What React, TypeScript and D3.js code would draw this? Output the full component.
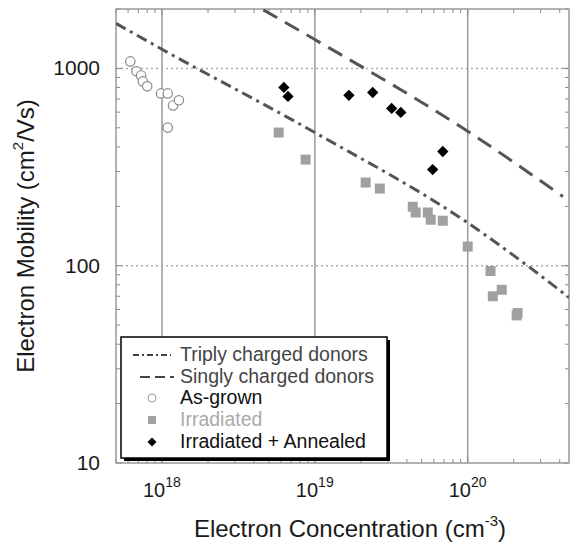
import React, { useEffect, useRef } from 'react';
import * as d3 from 'd3';

// electron concentration (cm^-3), mobility (cm^2/Vs)
const asGrownConc = [6.2e17, 6.8e17, 7.3e17, 7.5e17, 8.0e17, 9.85e17, 1.09e18, 1.18e18, 1.29e18, 1.09e18];
const asGrownMob = [1085, 966, 921, 859, 811, 747, 747, 649, 689, 501];

const irradConc = [5.8e18, 8.7e18, 2.15e19, 2.66e19, 4.37e19, 4.57e19, 5.48e19, 5.73e19, 6.87e19, 1.0e20, 1.41e20, 1.46e20, 1.67e20, 2.09e20, 2.12e20];
const irradMob = [473, 345, 264, 246, 199, 186, 186, 171, 169, 125, 94, 70, 75.5, 56, 57.5];

const annealConc = [6.27e18, 6.67e18, 1.67e19, 2.39e19, 3.18e19, 3.65e19, 5.9e19, 6.87e19];
const annealMob = [801, 721, 730, 755, 627, 598, 307, 379];

const triplyConc = [5e17, 1e18, 1e19, 1e20, 2.46e20, 4.6e20];
const triplyMob = [1690, 1250, 473, 165, 100, 69];

const singlyConc = [4.6e18, 1e19, 1e20, 4.2e20];
const singlyMob = [1980, 1400, 480, 224];

const xMajor = [1e18, 1e19, 1e20];
const yMajor = [10, 100, 1000];
const yLabels = ['10', '100', '1000'];
const xExp = ['18', '19', '20'];

const legendItems = ['Triply charged donors', 'Singly charged donors', 'As-grown', 'Irradiated', 'Irradiated + Annealed'];

const FONT = '"Liberation Sans", Arial, sans-serif';

const App: React.FC = () => {
  const svgRef = useRef<SVGSVGElement>(null);

  useEffect(() => {
    if (!svgRef.current) return;
    const svg = d3.select(svgRef.current);
    svg.selectAll('*').remove();

    const x = d3.scaleLog().domain([5e17, 4.6e20]).range([116, 569]);
    const y = d3.scaleLog().domain([10, 2000]).range([463, 9]);
    const [x0, x1] = x.range();
    const [y0, y1] = y.range();

    const g = svg.append('g');

    // grid
    g.selectAll('line.vgrid').data(xMajor).join('line')
      .attr('x1', d => x(d)).attr('x2', d => x(d)).attr('y1', y1).attr('y2', y0)
      .attr('stroke', '#9a9a9a').attr('stroke-width', 1.5);
    g.selectAll('line.hgrid').data([100, 1000]).join('line')
      .attr('x1', x0).attr('x2', x1).attr('y1', d => y(d)).attr('y2', d => y(d))
      .attr('stroke', '#aaa').attr('stroke-width', 1.5).attr('stroke-dasharray', '2,3');

    // minor/major ticks
    const xTicks = x.ticks().filter(d => d >= 5e17 && d <= 4.6e20);
    const yTicks = y.ticks().filter(d => d >= 10 && d <= 2000);
    const isMajor = (v: number) => Math.abs(Math.log10(v) - Math.round(Math.log10(v))) < 1e-6;
    xTicks.forEach(t => {
      const len = isMajor(t) ? 6 : 4;
      g.append('line').attr('x1', x(t)).attr('x2', x(t)).attr('y1', y0).attr('y2', y0 - len).attr('stroke', '#888');
      g.append('line').attr('x1', x(t)).attr('x2', x(t)).attr('y1', y1).attr('y2', y1 + len).attr('stroke', '#888');
    });
    yTicks.forEach(t => {
      const len = isMajor(t) ? 6 : 4;
      g.append('line').attr('x1', x0).attr('x2', x0 + len).attr('y1', y(t)).attr('y2', y(t)).attr('stroke', '#888');
      g.append('line').attr('x1', x1).attr('x2', x1 - len).attr('y1', y(t)).attr('y2', y(t)).attr('stroke', '#888');
    });

    // frame
    g.append('rect').attr('x', x0).attr('y', y1).attr('width', x1 - x0).attr('height', y0 - y1)
      .attr('fill', 'none').attr('stroke', '#999').attr('stroke-width', 1.5);

    const clip = svg.append('clipPath').attr('id', 'plotclip');
    clip.append('rect').attr('x', x0).attr('y', y1).attr('width', x1 - x0).attr('height', y0 - y1);

    const line = d3.line<[number, number]>().x(d => x(d[0])).y(d => y(d[1])).curve(d3.curveMonotoneX);
    const plot = g.append('g').attr('clip-path', 'url(#plotclip)');

    plot.append('path').datum(triplyConc.map((c, i) => [c, triplyMob[i]] as [number, number]))
      .attr('d', line).attr('fill', 'none').attr('stroke', '#555').attr('stroke-width', 3)
      .attr('stroke-dasharray', '11,5,3,5');
    plot.append('path').datum(singlyConc.map((c, i) => [c, singlyMob[i]] as [number, number]))
      .attr('d', line).attr('fill', 'none').attr('stroke', '#555').attr('stroke-width', 3)
      .attr('stroke-dasharray', '16,9');

    // points
    plot.selectAll('circle.ag').data(asGrownConc).join('circle')
      .attr('cx', d => x(d)).attr('cy', (d, i) => y(asGrownMob[i])).attr('r', 4.7)
      .attr('fill', 'white').attr('stroke', '#8a8a8a').attr('stroke-width', 1.2);
    plot.selectAll('rect.ir').data(irradConc).join('rect')
      .attr('x', d => x(d) - 5).attr('y', (d, i) => y(irradMob[i]) - 5).attr('width', 10).attr('height', 10)
      .attr('fill', '#a0a0a0');
    const diamond = d3.symbol().type(d3.symbolSquare).size(64);
    plot.selectAll('path.an').data(annealConc).join('path')
      .attr('d', diamond)
      .attr('transform', (d, i) => `translate(${x(d)},${y(annealMob[i])}) rotate(45)`)
      .attr('fill', '#000');

    // tick labels
    yMajor.forEach((v, i) => {
      g.append('text').attr('x', 100).attr('y', y(v) + 7).attr('text-anchor', 'end')
        .style('font-family', FONT).style('font-size', '21px').attr('fill', '#1a1a1a').text(yLabels[i]);
    });
    xMajor.forEach((v, i) => {
      const t = g.append('text').attr('x', x(v) - 19).attr('y', 497)
        .style('font-family', FONT).style('font-size', '20px').attr('fill', '#1a1a1a');
      t.append('tspan').text('10');
      t.append('tspan').attr('dy', -10).style('font-size', '14px').text(xExp[i]);
    });

    // axis titles
    const xt = g.append('text').attr('x', 350).attr('y', 537).attr('text-anchor', 'middle')
      .style('font-family', FONT).style('font-size', '24px').attr('fill', '#1a1a1a');
    xt.append('tspan').text('Electron Concentration (cm');
    xt.append('tspan').attr('dy', -11).style('font-size', '15px').text('-3');
    xt.append('tspan').attr('dy', 11).text(')');

    const yt = g.append('text').attr('transform', 'translate(34,236) rotate(-90)').attr('text-anchor', 'middle')
      .style('font-family', FONT).style('font-size', '24px').attr('fill', '#1a1a1a');
    yt.append('tspan').text('Electron Mobility (cm');
    yt.append('tspan').attr('dy', -11).style('font-size', '15px').text('2');
    yt.append('tspan').attr('dy', 11).text('/Vs)');

    // legend
    const lg = g.append('g');
    lg.append('rect').attr('x', 124).attr('y', 340).attr('width', 266).attr('height', 121).attr('fill', '#000');
    lg.append('rect').attr('x', 121).attr('y', 337).attr('width', 266).attr('height', 121)
      .attr('fill', 'white').attr('stroke', '#000').attr('stroke-width', 1.5);
    const rowY = [355, 377, 398, 420, 442];
    const colors = ['#444', '#444', '#111', '#aaa', '#111'];
    lg.append('line').attr('x1', 133).attr('x2', 171).attr('y1', rowY[0]).attr('y2', rowY[0])
      .attr('stroke', '#444').attr('stroke-width', 2).attr('stroke-dasharray', '6,3,2,3');
    lg.append('line').attr('x1', 140).attr('x2', 174).attr('y1', rowY[1]).attr('y2', rowY[1])
      .attr('stroke', '#444').attr('stroke-width', 2).attr('stroke-dasharray', '10,5');
    lg.append('circle').attr('cx', 152).attr('cy', rowY[2]).attr('r', 4).attr('fill', 'white').attr('stroke', '#999');
    lg.append('rect').attr('x', 148).attr('y', rowY[3] - 4).attr('width', 8).attr('height', 8).attr('fill', '#a0a0a0');
    lg.append('path').attr('d', d3.symbol().type(d3.symbolSquare).size(40))
      .attr('transform', `translate(152,${rowY[4]}) rotate(45)`).attr('fill', '#000');
    legendItems.forEach((s, i) => {
      lg.append('text').attr('x', 180).attr('y', rowY[i] + 6)
        .style('font-family', FONT).style('font-size', '19.5px').attr('fill', colors[i]).text(s);
    });
  }, []);

  return (
    <div style={{ position: 'absolute', left: 0, top: 0 }}>
      <svg ref={svgRef} width={571} height={542} style={{ display: 'block', background: 'white' }} />
    </div>
  );
};

export default App;
